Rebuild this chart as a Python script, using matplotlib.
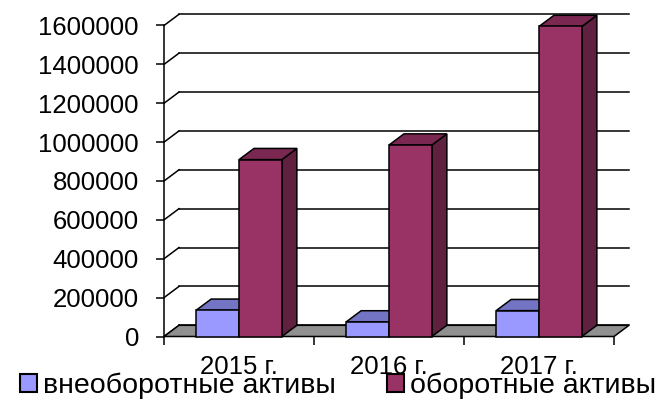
import matplotlib.pyplot as plt
from matplotlib.patches import Polygon, Patch
import numpy as np

plt.rcParams['font.family'] = ['Liberation Sans', 'DejaVu Sans']

years = ['2015 г.', '2016 г.', '2017 г.']
series_names = ['внеоборотные активы', 'оборотные активы']
non_current = [135000, 75000, 133000]
current = [910000, 985000, 1595000]
y_ticks = [0, 200000, 400000, 600000, 800000, 1000000, 1200000, 1400000, 1600000]

front_colors = ['#9999FF', '#993366']
top_colors = ['#7474C4', '#7A2852']
side_colors = ['#5A5AA0', '#602040']

W, H = 6.62, 4.01
fig = plt.figure(figsize=(W, H), dpi=100)
ax_pos = [164 / 662, 64.5 / 401, 450 / 662, 311 / 401]
ax = fig.add_axes(ax_pos)

x = np.arange(len(years))
ax.set_xlim(-0.5, len(years) - 0.5)
ax.set_ylim(0, 1600000)

# depth of the fake 3d box, in pixels, turned into data units
depth_px = (15, 11.2)
ax_w_px = ax_pos[2] * W * 100
ax_h_px = ax_pos[3] * H * 100
ddx = depth_px[0] * 3 / ax_w_px
ddy = depth_px[1] * 1600000 / ax_h_px

lw = 1.1
x0, x1 = -0.5, len(years) - 0.5

# back wall gridlines + side wall diagonals
for v in y_ticks:
    ax.plot([x0 + ddx, x1 + ddx], [v + ddy, v + ddy], color='black', lw=lw,
            clip_on=False, zorder=1)
    ax.plot([x0, x0 + ddx], [v, v + ddy], color='black', lw=lw,
            clip_on=False, zorder=1)

# floor
floor = Polygon([(x0, 0), (x1, 0), (x1 + ddx, ddy), (x0 + ddx, ddy)],
                closed=True, facecolor='#909090', edgecolor='black', lw=lw,
                clip_on=False, zorder=2)
ax.add_patch(floor)

# bars
bw = 1 / 3.5
for i, vals in enumerate([non_current, current]):
    offs = (i - 0.5) * bw
    ax.bar(x + offs, vals, width=bw, color=front_colors[i], edgecolor='black',
           linewidth=lw, zorder=5 + i * 2, clip_on=False)
    for xc, v in zip(x + offs, vals):
        l, r = xc - bw / 2, xc + bw / 2
        top = Polygon([(l, v), (r, v), (r + ddx, v + ddy), (l + ddx, v + ddy)],
                      closed=True, facecolor=top_colors[i], edgecolor='black',
                      lw=lw, clip_on=False, zorder=4 + i * 2)
        side = Polygon([(r, 0), (r, v), (r + ddx, v + ddy), (r + ddx, ddy)],
                       closed=True, facecolor=side_colors[i], edgecolor='black',
                       lw=lw, clip_on=False, zorder=4 + i * 2)
        ax.add_patch(side)
        ax.add_patch(top)

for s in ['top', 'right', 'bottom']:
    ax.spines[s].set_visible(False)
ax.spines['left'].set_linewidth(lw)

ax.set_yticks(y_ticks)
ax.set_yticklabels([str(v) for v in y_ticks], fontsize=18.5)
ax.tick_params(axis='y', length=6, width=lw, pad=12)

ax.set_xticks(x)
ax.set_xticklabels(years, fontsize=18.5)
ax.set_xticks(np.arange(-0.5, len(years)), minor=True)
ax.tick_params(axis='x', which='major', length=0, pad=13)
ax.tick_params(axis='x', which='minor', length=6, width=lw)

handles = [Patch(facecolor=front_colors[i], edgecolor='black', lw=1.5)
           for i in range(2)]
fig.legend(handles, series_names, loc='lower left', bbox_to_anchor=(0.0, -0.045),
           ncol=2, frameon=False, fontsize=20.5, handlelength=0.6,
           handleheight=0.6, handletextpad=0.2, columnspacing=1.8,
           borderpad=0.2)

fig.savefig('out.png', dpi=100)
